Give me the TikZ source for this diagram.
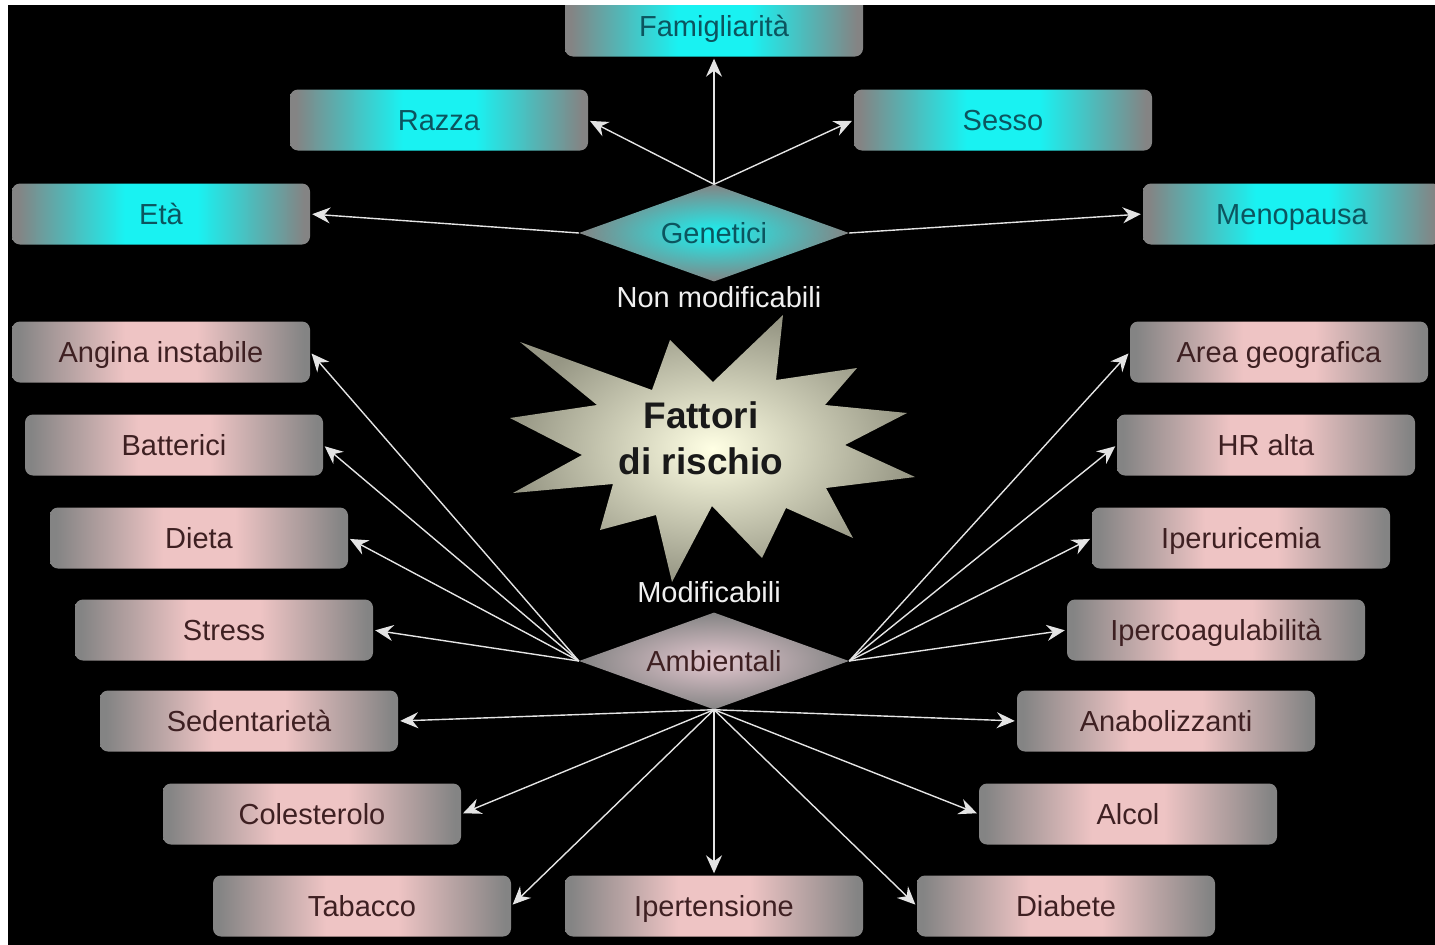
\documentclass[tikz,border=0pt]{standalone}
\usepackage{fontspec}
\setmainfont{Liberation Sans}
\usetikzlibrary{shapes.geometric,arrows.meta}

\definecolor{grigio}{RGB}{132,132,132}
\definecolor{ciano}{RGB}{25,242,242}
\definecolor{rosa}{RGB}{238,196,196}
\definecolor{testociano}{RGB}{12,85,95}
\definecolor{testorosa}{RGB}{62,32,34}
\definecolor{rosarombo}{RGB}{222,186,196}
\definecolor{stellachiara}{RGB}{255,255,228}
\definecolor{stellascura}{RGB}{150,150,132}
\definecolor{freccia}{RGB}{228,228,228}

\pgfdeclarehorizontalshading{shciano}{100bp}{color(0bp)=(grigio); color(26bp)=(grigio); color(44bp)=(ciano); color(56bp)=(ciano); color(74bp)=(grigio); color(100bp)=(grigio)}
\pgfdeclarehorizontalshading{shrosa}{100bp}{color(0bp)=(grigio); color(26bp)=(grigio); color(44bp)=(rosa); color(56bp)=(rosa); color(74bp)=(grigio); color(100bp)=(grigio)}

\begin{document}
\begin{tikzpicture}[x=1pt,y=-1pt,
    box/.style={rectangle, rounded corners=8pt, minimum width=298pt, minimum height=61pt, inner sep=0pt, text height=24pt, text depth=4pt, font=\fontsize{29}{34}\selectfont},
    boxgen/.style={box, shading=shciano, text=testociano},
    boxamb/.style={box, shading=shrosa, text=testorosa},
    rombo/.style={diamond, aspect=2.75, inner sep=0pt, minimum width=270pt, minimum height=97pt, font=\fontsize{29}{34}\selectfont},
    etichetta/.style={text=white!88!gray, font=\fontsize{29}{34}\selectfont},
    arr/.style={draw=freccia, line width=1.4pt, -{Stealth[inset=6pt,length=18pt,width=16pt]}, shorten >=2pt}]

        \useasboundingbox (0, 0) rectangle (1435, 945);
        \fill[white] (0, 0) rectangle (1435, 945);
        \fill[black] (8, 5) rectangle (1435, 945);

        % stella centrale
        \shade[inner color=stellachiara, outer color=stellascura]
            (670, 340) -- (713, 382) -- (783, 315) -- (776, 380) -- (857, 368) -- (825, 405)
            -- (907, 413) -- (845, 445) -- (915, 477) -- (826, 488) -- (853, 538) -- (786, 508)
            -- (762, 558) -- (712, 506) -- (672, 582) -- (656, 515) -- (600, 530) -- (613, 484)
            -- (513, 493) -- (582, 455) -- (510, 418) -- (597, 405) -- (520, 342) -- (652, 390) -- cycle;
        \node[font=\bfseries\fontsize{37}{46}\selectfont, align=center, text=black!90] (fr) at (701, 438) {Fattori\\di rischio};

        \node[etichetta] (nm) at (719, 297) {Non modificabili};
        \node[etichetta] (mo) at (709, 592) {Modificabili};

        \node[rombo, shading=radial, inner color=ciano, outer color=grigio, text=testociano] (gen) at (714, 233) {Genetici};
        \node[rombo, shading=radial, inner color=rosarombo!80!white, outer color=grigio, text=testorosa] (amb) at (714, 661) {Ambientali};

        \begin{scope}
        \clip (8, 5) rectangle (1435, 945);
        \node[boxgen] (fam) at (714, 26) {Famigliarità};
        \node[boxgen] (raz) at (439, 120) {Razza};
        \node[boxgen] (ses) at (1003, 120) {Sesso};
        \node[boxgen] (eta) at (161, 214) {Età};
        \node[boxgen] (men) at (1292, 214) {Menopausa};

        \node[boxamb] (ang) at (161, 352) {Angina instabile};
        \node[boxamb] (bat) at (174, 445) {Batterici};
        \node[boxamb] (die) at (199, 538) {Dieta};
        \node[boxamb] (str) at (224, 630) {Stress};
        \node[boxamb] (sed) at (249, 721) {Sedentarietà};
        \node[boxamb] (col) at (312, 814) {Colesterolo};
        \node[boxamb] (tab) at (362, 906) {Tabacco};
        \node[boxamb] (ipt) at (714, 906) {Ipertensione};
        \node[boxamb] (dia) at (1066, 906) {Diabete};
        \node[boxamb] (alc) at (1128, 814) {Alcol};
        \node[boxamb] (ana) at (1166, 721) {Anabolizzanti};
        \node[boxamb] (ipc) at (1216, 630) {Ipercoagulabilità};
        \node[boxamb] (ipu) at (1241, 538) {Iperuricemia};
        \node[boxamb] (hr) at (1266, 445) {HR alta};
        \node[boxamb] (are) at (1279, 352) {Area geografica};
        \end{scope}

        \draw[arr] (gen.north) -- (fam.south);
        \draw[arr] (gen.north) -- (raz.east);
        \draw[arr] (gen.north) -- (ses.west);
        \draw[arr] (gen.west) -- (eta.east);
        \draw[arr] (gen.east) -- (men.west);

        \draw[arr] (amb.west) -- (ang.east);
        \draw[arr] (amb.west) -- (bat.east);
        \draw[arr] (amb.west) -- (die.east);
        \draw[arr] (amb.west) -- (str.east);
        \draw[arr] (amb.east) -- (are.west);
        \draw[arr] (amb.east) -- (hr.west);
        \draw[arr] (amb.east) -- (ipu.west);
        \draw[arr] (amb.east) -- (ipc.west);
        \draw[arr] (amb.south) -- (sed.east);
        \draw[arr] (amb.south) -- (col.east);
        \draw[arr] (amb.south) -- (tab.east);
        \draw[arr] (amb.south) -- (ipt.north);
        \draw[arr] (amb.south) -- (dia.west);
        \draw[arr] (amb.south) -- (alc.west);
        \draw[arr] (amb.south) -- (ana.west);

    \end{tikzpicture}
\end{document}
